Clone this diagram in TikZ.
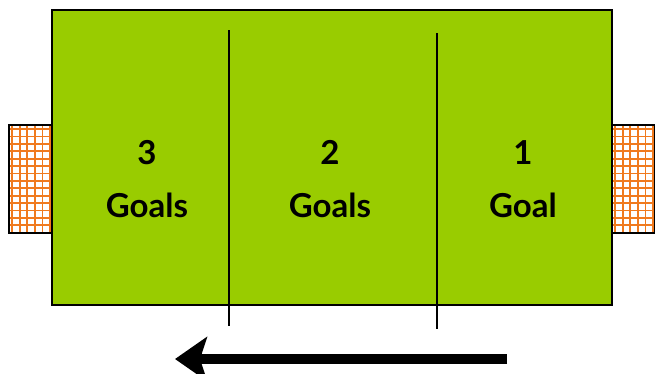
\documentclass[tikz,border=0pt]{standalone}
\usepackage{fontspec}
\setsansfont{Lato}
\usetikzlibrary{arrows.meta}
\definecolor{pitchgreen}{HTML}{99CC00}
\definecolor{netorange}{HTML}{F07A1E}
\tikzset{
    field/.style={draw=black,line width=2pt,fill=pitchgreen},
    goalbox/.style={draw=black,line width=2pt},
    netline/.style={netorange,line width=1.8pt},
    divider/.style={draw=black,line width=1.2pt},
    zone/.style={align=center,font=\sffamily\bfseries\fontsize{33}{53}\selectfont,inner sep=0pt},
    play/.style={line width=10pt,-{Stealth[length=32pt,width=44pt,inset=7pt]}},
}
\begin{document}
\begin{tikzpicture}[x=1pt,y=-1pt]
\useasboundingbox (0,0) rectangle (655,373);
% goals with netting
\foreach \gx/\gw in {9/43,612/43}{
    \fill[white] (\gx,125) rectangle ++(\gw,108);
    \begin{scope}
        \clip (\gx,125) rectangle ++(\gw,108);
        \foreach \k in {0,...,6} \draw[netline] (\gx+3+7.6*\k,125) -- ++(0,108);
        \foreach \k in {0,...,14} \draw[netline] (\gx,129+7.4*\k) -- ++(\gw,0);
    \end{scope}
    \draw[goalbox] (\gx,125) rectangle ++(\gw,108);
}
\draw[field] (52,10) rectangle (612,305);
% zone dividers
\draw[divider] (229,30) -- (229,326);
\draw[divider] (437,33) -- (437,329);
\node[zone] (three) at (147,179) {3\\Goals};
\node[zone] (two) at (330,179) {2\\Goals};
\node[zone] (one) at (523,179) {1\\Goal};
% direction of play
\coordinate (start) at (507,359);
\coordinate (finish) at (175,359);
\draw[play] (start) -- (finish);
\end{tikzpicture}
\end{document}
